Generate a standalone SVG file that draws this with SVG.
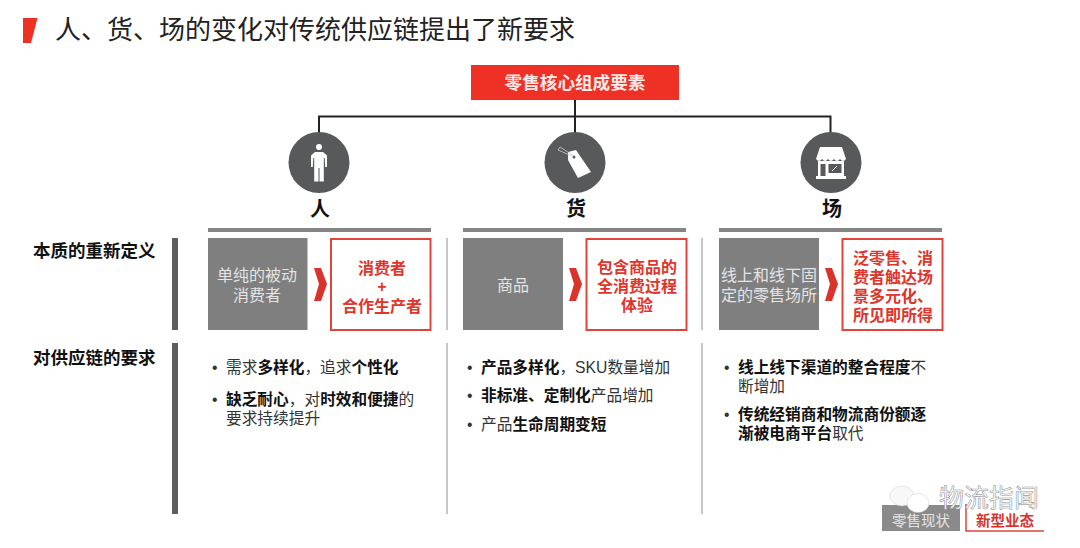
<svg xmlns="http://www.w3.org/2000/svg" width="1080" height="548" viewBox="0 0 1080 548">
<style>
text{font-family:"Liberation Sans","Noto Sans CJK SC",sans-serif}
.h{font-size:17.500px;font-weight:700;fill:#111}
.g{font-size:16px;fill:#e4e4e4;text-anchor:middle}
.r{font-size:16px;font-weight:700;fill:#e0352b;text-anchor:middle}
.b{font-size:15.700px;fill:#333}
.s{font-weight:700;fill:#111}
.k{font-size:20px;font-weight:700;fill:#111;text-anchor:middle}
.bar{fill:#858585}
.gbox{fill:#7f7f7f}
.rbox{fill:#fff;stroke:#e0443a;stroke-width:2}
.chev{fill:#d9342b}
.circ{fill:#58595b}
.vd{stroke:#b5b5b5;stroke-width:1.500}
.lb{fill:#5d5d5d}
.w{fill:#fff}
</style>
<rect width="1080" height="548" fill="#fff"/>
<g id="title">
<path d="M23 18H37.500L31 43H23Z" fill="#ee3124"/>
<text x="55" y="39" font-size="26" fill="#222">人、货、场的变化对传统供应链提出了新要求</text>
</g>
<g id="connectors" fill="none" stroke="#222" stroke-width="2">
<path d="M575 100V133M319 133V116.500H830.500V133"/>
</g>
<g id="root">
<rect x="471" y="65" width="208" height="35" fill="#ee3124"/>
<text x="575" y="88.500" font-size="17.600" font-weight="700" fill="#fdeaea" text-anchor="middle">零售核心组成要素</text>
</g>
<g id="node-ren">
<ellipse class="circ" cx="319" cy="162.500" rx="30.500" ry="30.500"/>
<circle class="w" cx="319" cy="147" r="3"/>
<path class="w" d="M315 152H323L327 155.500V167H325.200L324.700 158H323.800V181.500H319.500V168H318.500V181.500H314.200V158H313.300L312.800 167H311V155.500Z"/>
<text class="k" x="320" y="216">人</text>
</g>
<g id="node-huo">
<ellipse class="circ" cx="575" cy="162.500" rx="30.500" ry="30.500"/>
<path class="w" d="M576 150L591 172L578 178L568 160L568 152Z"/>
<circle class="circ" cx="574" cy="157" r="1.500"/>
<path d="M574 156L560 147L558 150L572 156" fill="none" stroke="#ccc" stroke-width="0.800"/>
<text class="k" x="576" y="216">货</text>
</g>
<g id="node-chang">
<ellipse class="circ" cx="831" cy="162.500" rx="30.500" ry="30.500"/>
<path class="w" d="M820 147H842L846 159Q843 163 840 159Q837 163 834 159Q831 163 828 159Q825 163 822 159Q819 163 816 159Z"/>
<path class="w" d="M818 161H844V176H846V179H816V176H818Z"/>
<rect class="circ" x="820.500" y="164" width="5" height="12"/>
<rect class="circ" x="828.500" y="164" width="13" height="9"/>
<path d="M832 171L837 166" stroke="#fff" stroke-width="1"/>
<text class="k" x="832" y="216">场</text>
</g>
<g id="row-labels">
<text class="h" x="33" y="257">本质的重新定义</text>
<rect class="lb" x="172" y="238" width="6" height="92"/>
<text class="h" x="33" y="364">对供应链的要求</text>
<rect class="lb" x="172" y="343" width="6" height="171"/>
</g>
<g id="col-ren">
<rect class="bar" x="208" y="228" width="223" height="4"/>
<rect class="gbox" x="208" y="238" width="99.500" height="92"/>
<text class="g" x="257" y="281">单纯的被动</text>
<text class="g" x="257" y="301">消费者</text>
<path class="chev" d="M314 268H321L327 284L321 301H314L319 284Z"/>
<rect class="rbox" x="331" y="239" width="99.500" height="91"/>
<text class="r" x="382" y="274">消费者</text>
<text class="r" x="382" y="292">+</text>
<text class="r" x="382" y="312">合作生产者</text>
<text class="b" x="212" y="373">•</text>
<text class="b" x="226" y="373">需求<tspan class="s">多样化</tspan>，追求<tspan class="s">个性化</tspan></text>
<text class="b" x="212" y="405">•</text>
<text class="b" x="226" y="405"><tspan class="s">缺乏耐心</tspan>，对<tspan class="s">时效和便捷</tspan>的</text>
<text class="b" x="226" y="424">要求持续提升</text>
</g>
<g id="col-huo">
<rect class="bar" x="463" y="228" width="223" height="4"/>
<rect class="gbox" x="463" y="238" width="100" height="92"/>
<text class="g" x="513" y="291">商品</text>
<path class="chev" d="M569 268H576L582 284L576 301H569L574 284Z"/>
<rect class="rbox" x="586.500" y="239" width="100" height="91"/>
<text class="r" x="637" y="273">包含商品的</text>
<text class="r" x="637" y="292">全消费过程</text>
<text class="r" x="637" y="311">体验</text>
<text class="b" x="467" y="373">•</text>
<text class="b" x="481" y="373"><tspan class="s">产品多样化</tspan>，SKU数量增加</text>
<text class="b" x="467" y="401">•</text>
<text class="b" x="481" y="401"><tspan class="s">非标准、定制化</tspan>产品增加</text>
<text class="b" x="467" y="430">•</text>
<text class="b" x="481" y="430">产品<tspan class="s">生命周期变短</tspan></text>
</g>
<g id="col-chang">
<rect class="bar" x="719" y="228" width="223" height="4"/>
<rect class="gbox" x="719" y="238" width="100" height="92"/>
<text class="g" x="769" y="281">线上和线下固</text>
<text class="g" x="769" y="301">定的零售场所</text>
<path class="chev" d="M825 268H832L838 284L832 301H825L830 284Z"/>
<rect class="rbox" x="842.500" y="239" width="100" height="91"/>
<text class="r" x="893" y="264">泛零售、消</text>
<text class="r" x="893" y="283">费者触达场</text>
<text class="r" x="893" y="302">景多元化、</text>
<text class="r" x="893" y="321">所见即所得</text>
<text class="b" x="724" y="373">•</text>
<text class="b" x="738" y="373"><tspan class="s">线上线下渠道的整合程度</tspan>不</text>
<text class="b" x="738" y="392">断增加</text>
<text class="b" x="724" y="420">•</text>
<text class="b" x="738" y="420"><tspan class="s">传统经销商和物流商份额逐</tspan></text>
<text class="b" x="738" y="439"><tspan class="s">渐被电商平台</tspan>取代</text>
</g>
<g id="dividers">
<path class="vd" d="M447 238V330M447 343V514M702 238V330M702 343V514"/>
</g>
<g id="footer">
<rect x="882" y="505" width="78" height="26" fill="#8a8a8a"/>
<text x="921" y="526" font-size="14.500" fill="#e6e6e6" text-anchor="middle">零售现状</text>
<path d="M966 504V531H1044" fill="none" stroke="#e0443a" stroke-width="1.500"/>
<text x="1005" y="526" font-size="14.500" font-weight="700" fill="#d9342b" text-anchor="middle">新型业态</text>
</g>
<g id="watermark">
<ellipse cx="902" cy="496" rx="12" ry="10" fill="#f8f8f8" stroke="#ccc" stroke-width=".5"/>
<ellipse cx="918" cy="503" rx="11" ry="9.500" fill="#fff" stroke="#ccc" stroke-width=".5"/>
<text x="939" y="507" font-size="25" fill="#fff" stroke="#999" stroke-width=".6">物流指闻</text>
</g>
</svg>
